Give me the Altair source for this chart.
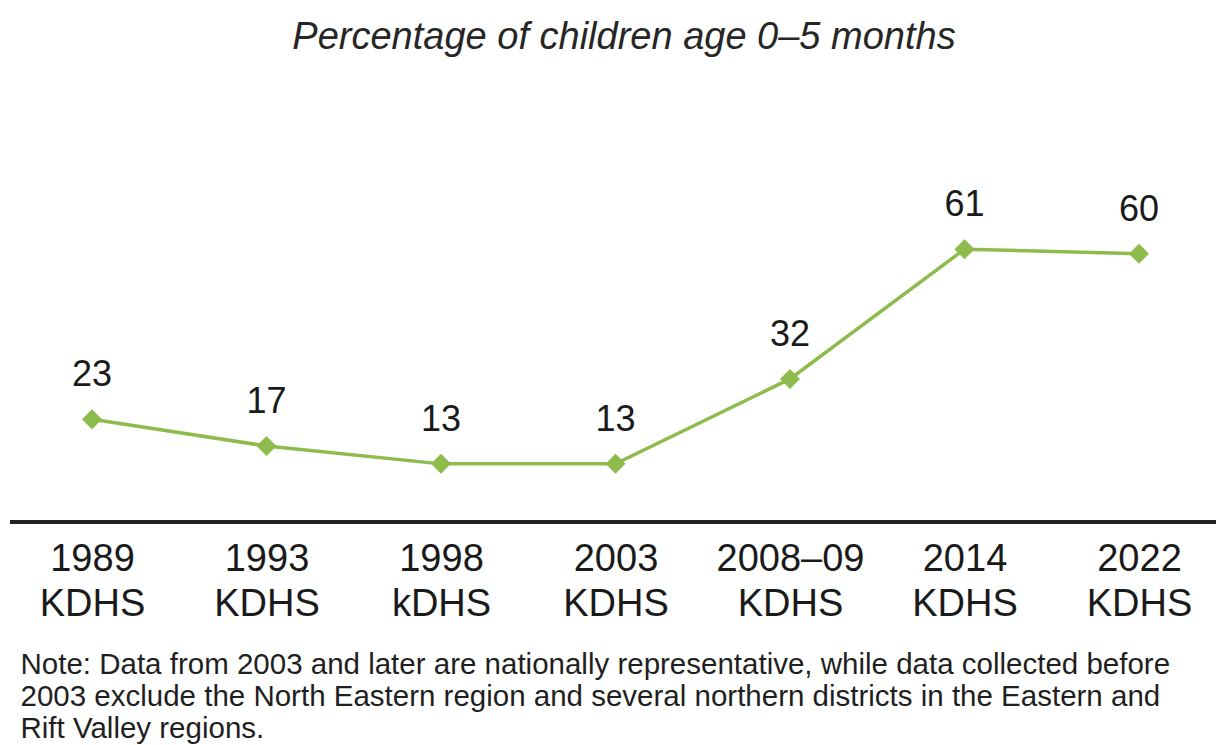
import altair as alt
import pandas as pd

# Survey rounds and exclusive breastfeeding percentages
years = ["1989", "1993", "1998", "2003", "2008–09", "2014", "2022"]
surveys = ["KDHS", "KDHS", "kDHS", "KDHS", "KDHS", "KDHS", "KDHS"]
values = [23, 17, 13, 13, 32, 61, 60]

title_text = "Percentage of children age 0–5 months"
note_lines = [
    "Note: Data from 2003 and later are nationally representative, while data collected before",
    "2003 exclude the North Eastern region and several northern districts in the Eastern and",
    "Rift Valley regions.",
]

df = pd.DataFrame({
    "label": [f"{y}\n{s}" for y, s in zip(years, surveys)],
    "value": values,
})

W, H = 1206, 313
FONT = "Liberation Sans"
GREEN = "#8dbb4c"

x_enc = alt.X(
    "label:N",
    sort=None,
    scale=alt.Scale(type="point", range=[82, 1129], padding=0),
    axis=alt.Axis(
        labelExpr="split(datum.label, '\\n')",
        labelAngle=0,
        labelFontSize=38,
        labelLineHeight=45,
        labelFont=FONT,
        labelColor="#1a1a1a",
        labelPadding=18,
        domain=False,
        ticks=False,
        grid=False,
        title=note_lines,
        titleFont=FONT,
        titleFontSize=29.5,
        titleFontWeight="normal",
        titleColor="#1f1f1f",
        titleLineHeight=32,
        titleAnchor="start",
        titleAlign="left",
        titleBaseline="top",
        titleX=10,
        titleY=128,
    ),
)
y_enc = alt.Y("value:Q", scale=alt.Scale(domain=[0, 70], nice=False), axis=None)

base = alt.Chart(df).encode(x=x_enc, y=y_enc)

line = base.mark_line(color=GREEN, strokeWidth=3.5)
points = base.mark_point(shape="diamond", filled=True, size=400, color=GREEN, opacity=1)
labels = base.mark_text(dy=-44, fontSize=36, font=FONT, color="#1a1a1a").encode(text="value:Q")

baseline = alt.Chart(df).mark_rule(color="#222222", strokeWidth=3).encode(
    x=alt.value(0), x2=alt.value(W), y=alt.value(H)
)

chart = alt.layer(baseline, line, points, labels).properties(
    width=W,
    height=H,
    title=alt.TitleParams(
        text=title_text,
        font=FONT,
        fontSize=38,
        fontStyle="italic",
        fontWeight="normal",
        color="#262626",
        anchor="middle",
        baseline="alphabetic",
        offset=100,
        dx=11,
    ),
    autosize=alt.AutoSizeParams(type="none"),
    padding={"left": 10, "top": 209, "right": 0, "bottom": 223},
).configure(background="white").configure_view(stroke=None)

chart.save("out.html", embed_options={"renderer": "svg", "actions": False})
